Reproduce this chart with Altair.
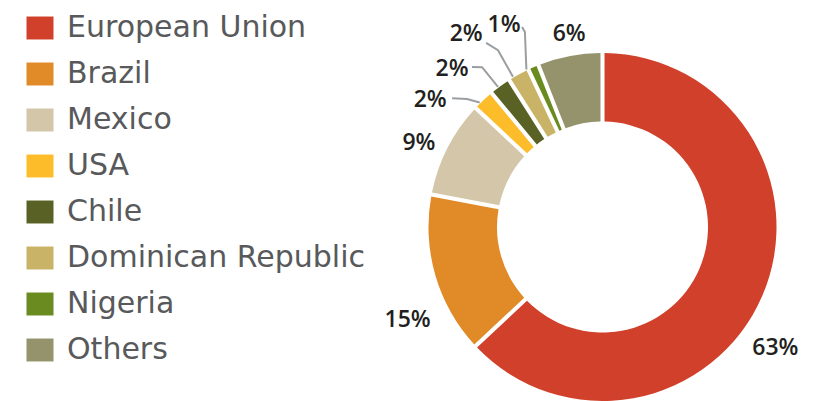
import math
import altair as alt
import pandas as pd

# ---------------- data ----------------
countries = ["European Union", "Brazil", "Mexico", "USA", "Chile",
             "Dominican Republic", "Nigeria", "Others"]
shares = [63, 15, 9, 2, 2, 2, 1, 6]
colors = ["#d1402a", "#e08a28", "#d4c6a8", "#fdbd2b", "#5a6124",
          "#c9b366", "#6a8b20", "#95936c"]

# ---------------- layout (styling only) ----------------
PAGE_W, PAGE_H = 828, 401
VIEW_W, VIEW_H = PAGE_W - 16, PAGE_H - 8
CX, CY = 594.5, 219.0          # donut centre inside the view (px)
R_OUT, R_IN = 174.0, 105.5     # px
# label placement: shift (deg) from slice mid-angle and radius (x outer radius)
LABEL_SHIFT = {"European Union": 11.6, "Brazil": -9.3, "Mexico": -2.4,
               "USA": -10.4, "Chile": -7.6, "Dominican Republic": -6.5,
               "Nigeria": -2.6, "Others": 1.0}
LABEL_RADIUS = {"European Union": 1.213, "Brazil": 1.241, "Mexico": 1.16,
                "USA": 1.23, "Chile": 1.254, "Dominican Republic": 1.356,
                "Nigeria": 1.29, "Others": 1.126}
# leader lines for small slices: (end shift), (elbow shift, r), (start shift, r)
LEADERS = {
    "USA": (-1.4, (-3.4, 1.071), (-6.2, 1.138)),
    "Chile": (-0.7, (-1.0, 1.15), (-3.2, 1.187)),
    "Dominican Republic": (-2.0, (-1.8, 1.18), (-3.5, 1.252)),
    "Nigeria": (-2.4, (1.7, 1.206), (1.5, 1.239)),
}

total = sum(shares)
mids = []
acc = 0
for v in shares:
    mids.append((acc + v / 2) / total * 360.0)
    acc += v


def polar(angle_deg, r):
    a = math.radians(angle_deg)
    return r * math.sin(a), r * math.cos(a)


# scales in units of outer radius
x_dom = [-CX / R_OUT, (VIEW_W - CX) / R_OUT]
y_dom = [-(VIEW_H - CY) / R_OUT, CY / R_OUT]
xs = alt.Scale(domain=x_dom, nice=False, zero=False)
ys = alt.Scale(domain=y_dom, nice=False, zero=False)

df = pd.DataFrame({"country": countries, "share": shares,
                   "idx": list(range(len(countries)))})

arc = alt.Chart(df).mark_arc(
    innerRadius=R_IN, outerRadius=R_OUT, padAngle=0.02
).encode(
    theta=alt.Theta("share:Q", stack=True),
    order=alt.Order("idx:Q"),
    color=alt.Color(
        "country:N",
        scale=alt.Scale(domain=countries, range=colors),
        legend=alt.Legend(
            orient="none", legendX=17, legendY=5, title=None,
            symbolType="M-1,-0.85L1,-0.85L1,0.85L-1,0.85Z",
            symbolSize=729, symbolStrokeWidth=0, symbolOpacity=1,
            labelFont="DejaVu Sans", labelFontSize=30,
            labelColor="#58595b", labelOffset=12, rowPadding=16,
            padding=0, labelLimit=400,
        ),
    ),
    x=alt.X(datum=0, type="quantitative", scale=xs, axis=None),
    y=alt.Y(datum=0, type="quantitative", scale=ys, axis=None),
)

# percentage labels
lab_rows = []
for c, v, m in zip(countries, shares, mids):
    lx, ly = polar(m + LABEL_SHIFT[c], LABEL_RADIUS[c])
    lab_rows.append({"country": c, "txt": f"{v}%", "lx": lx, "ly": ly})
lab_df = pd.DataFrame(lab_rows)

text = alt.Chart(lab_df).mark_text(
    font="Open Sans", fontSize=23, fontWeight=600, color="#231f20",
    align="center", baseline="middle"
).encode(
    x=alt.X("lx:Q", scale=xs, axis=None),
    y=alt.Y("ly:Q", scale=ys, axis=None),
    text="txt:N",
)

# leader lines
lead_rows = []
for c, m in zip(countries, mids):
    if c not in LEADERS:
        continue
    end_s, (eb_s, eb_r), (st_s, st_r) = LEADERS[c]
    pts = [polar(m + st_s, st_r), polar(m + eb_s, eb_r), polar(m + end_s, 1.005)]
    for k, (px, py) in enumerate(pts):
        lead_rows.append({"country": c, "k": k, "px": px, "py": py})
lead_df = pd.DataFrame(lead_rows)

leaders = alt.Chart(lead_df).mark_line(
    color="#9a9ea1", strokeWidth=2
).encode(
    x=alt.X("px:Q", scale=xs, axis=None),
    y=alt.Y("py:Q", scale=ys, axis=None),
    detail="country:N",
    order="k:Q",
)

chart = alt.layer(arc, leaders, text).properties(
    width=VIEW_W, height=VIEW_H,
    autosize=alt.AutoSizeParams(type="none"),
    padding=0,
    background="white",
).configure_view(stroke=None)

chart.save("out.html", embed_options={"renderer": "svg", "actions": False})
